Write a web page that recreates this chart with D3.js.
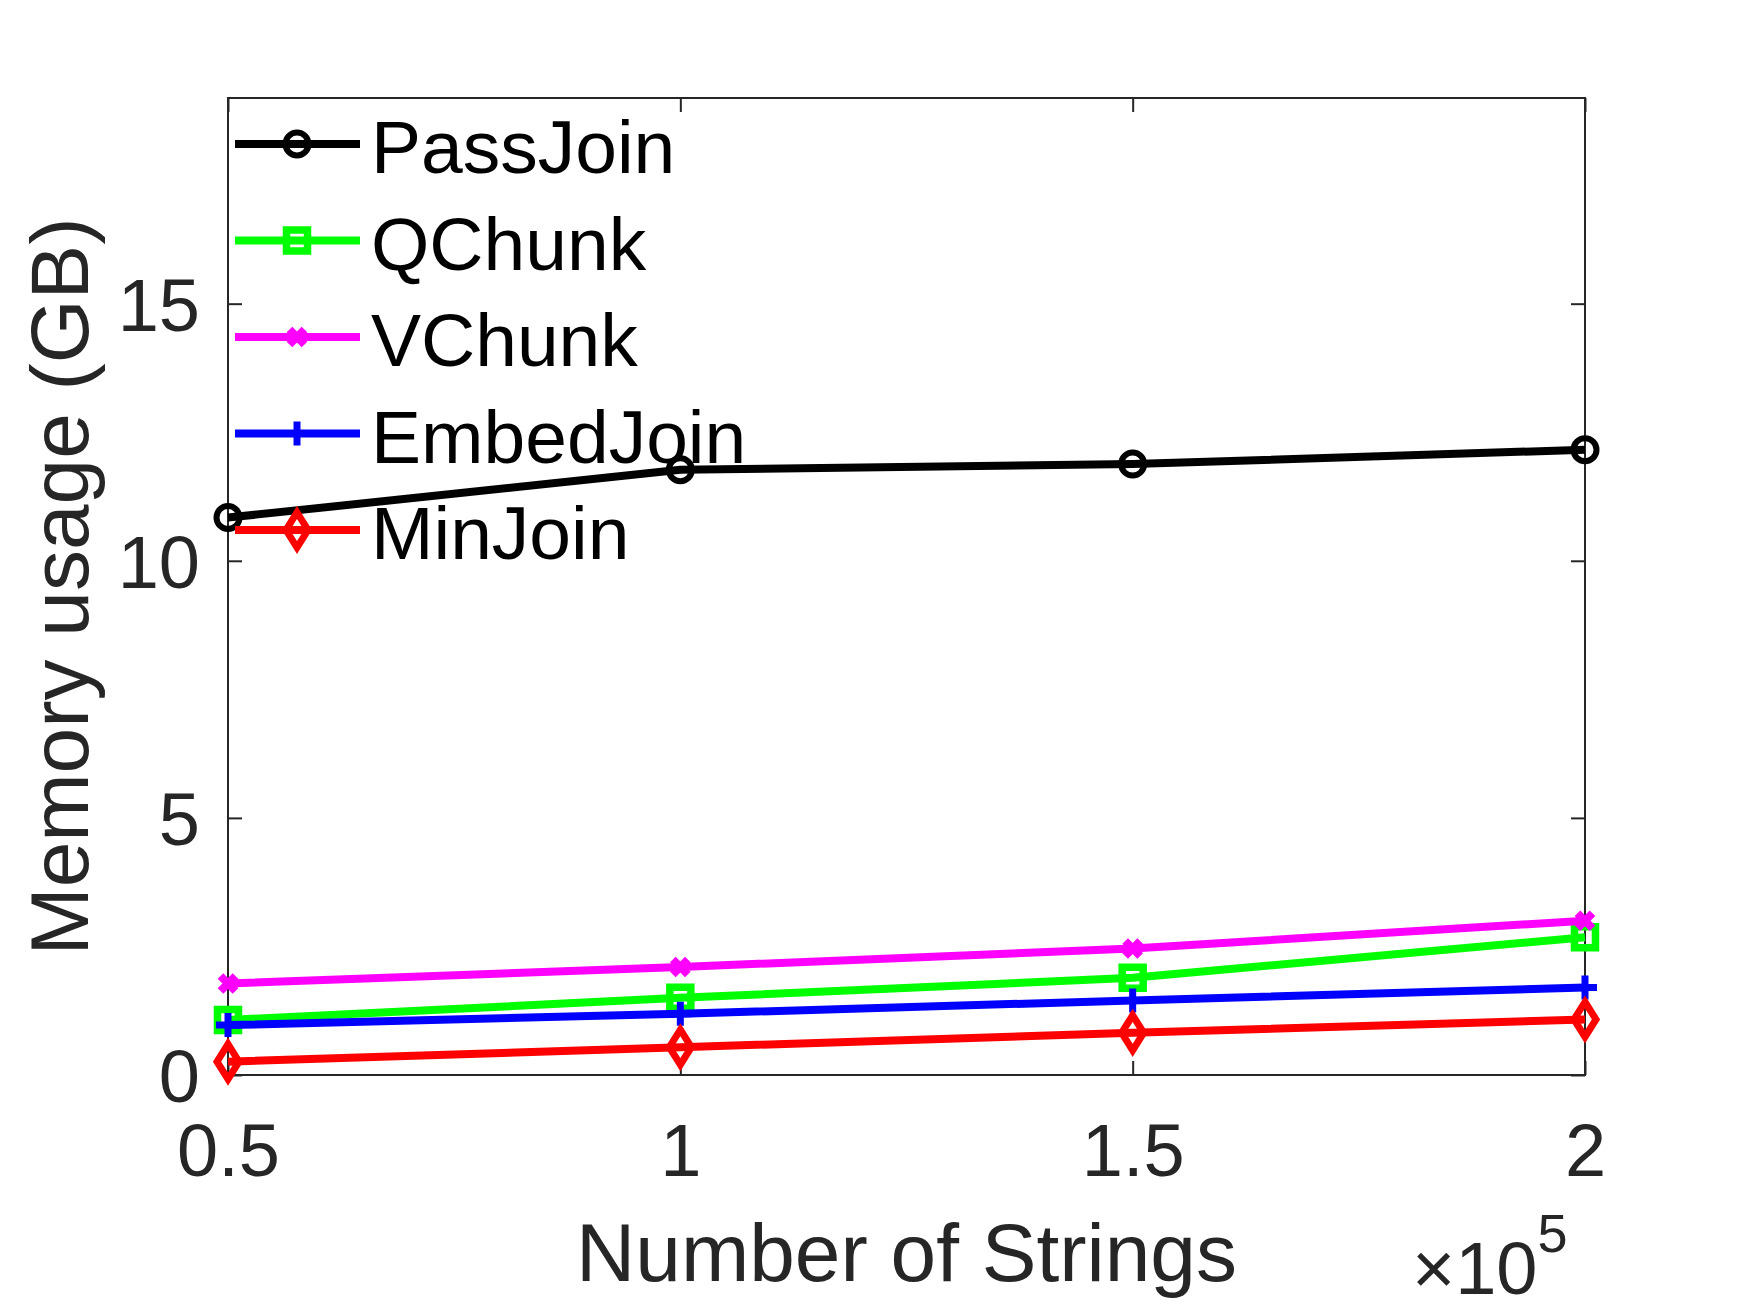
<!DOCTYPE html>
<html><head><meta charset="utf-8">
<script src="https://cdn.jsdelivr.net/npm/d3@7/dist/d3.min.js"></script>
<style>html,body{margin:0;padding:0;background:#fff;}</style>
</head><body>
<svg id="chart" width="1750" height="1312"></svg>
<script>
const xValues = [0.5, 1, 1.5, 2];
const xTickLabels = ["0.5", "1", "1.5", "2"];
const yTicks = [0, 5, 10, 15];
const seriesNames = ["PassJoin", "QChunk", "VChunk", "EmbedJoin", "MinJoin"];
const passJoin = [10.84, 11.77, 11.88, 12.16];
const qChunk = [1.07, 1.50, 1.89, 2.68];
const vChunk = [1.78, 2.10, 2.46, 3.00];
const embedJoin = [0.97, 1.19, 1.45, 1.70];
const minJoin = [0.26, 0.54, 0.82, 1.08];
const seriesColors = ["#000000", "#00ff00", "#ff00ff", "#0000ff", "#ff0000"];
const seriesMarkers = ["circle", "square", "x", "plus", "diamond"];
const seriesValues = [passJoin, qChunk, vChunk, embedJoin, minJoin];

const L = 228, R = 1585, T = 98, B = 1075;
const svg = d3.select("#chart");
const x = d3.scaleLinear().domain([0.5, 2]).range([L, R]);
const y = d3.scaleLinear().domain([0, 19]).range([B, T]);
const axisColor = "#262626";
const font = "'Liberation Sans', Arial, Helvetica, sans-serif";

function markerPath(type) {
  switch (type) {
    case "circle": { const r = 11.5; return `M${-r},0A${r},${r} 0 1,0 ${r},0A${r},${r} 0 1,0 ${-r},0Z`; }
    case "square": { const s = 10.5; return `M${-s},${-s}H${s}V${s}H${-s}Z`; }
    case "diamond": { const w = 11, h = 17.5; return `M0,${-h}L${w},0L0,${h}L${-w},0Z`; }
    case "x": { const s = 7.5; return `M${-s},${-s}L${s},${s}M${-s},${s}L${s},${-s}`; }
    case "plus": { const s = 12; return `M${-s},0H${s}M0,${-s}V${s}`; }
  }
}
const markerStroke = {circle: 6, square: 7.5, diamond: 7, x: 8, plus: 7};

// axes (box with inward ticks on all sides)
const gx = svg.append("g").attr("transform", `translate(0,${B})`)
  .call(d3.axisBottom(x).tickValues(xValues).tickFormat((d, i) => xTickLabels[i]).tickSizeInner(-14).tickSizeOuter(0).tickPadding(48));
const gxt = svg.append("g").attr("transform", `translate(0,${T})`)
  .call(d3.axisTop(x).tickValues(xValues).tickFormat("").tickSizeInner(-14).tickSizeOuter(0));
const gy = svg.append("g").attr("transform", `translate(${L},0)`)
  .call(d3.axisLeft(y).tickValues(yTicks).tickFormat(d3.format("d")).tickSizeInner(-14).tickSizeOuter(0).tickPadding(28));
const gyr = svg.append("g").attr("transform", `translate(${R},0)`)
  .call(d3.axisRight(y).tickValues(yTicks).tickFormat("").tickSizeInner(-14).tickSizeOuter(0));
[gx, gxt, gy, gyr].forEach(g => {
  g.select(".domain").remove();
  g.selectAll(".tick line").attr("stroke", axisColor).attr("stroke-width", 2);
  g.selectAll(".tick text").attr("fill", axisColor).style("font-family", font).style("font-size", "74px");
});
gx.selectAll(".tick text").attr("dy", "0.71em");
gy.selectAll(".tick text").attr("dy", "0.36em");

svg.append("rect").attr("x", L).attr("y", T).attr("width", R - L).attr("height", B - T)
  .attr("fill", "none").attr("stroke", axisColor).attr("stroke-width", 2);

// series
const line = d3.line().x((d, i) => x(xValues[i])).y(d => y(d));
seriesValues.forEach((vals, k) => {
  const g = svg.append("g");
  g.append("path").datum(vals).attr("d", line).attr("fill", "none")
    .attr("stroke", seriesColors[k]).attr("stroke-width", 8).attr("stroke-linejoin", "round");
  g.selectAll("path.m").data(vals).enter().append("path").attr("class", "m")
    .attr("transform", (d, i) => `translate(${x(xValues[i])},${y(d)})`)
    .attr("d", markerPath(seriesMarkers[k])).attr("fill", "none")
    .attr("stroke", seriesColors[k]).attr("stroke-width", markerStroke[seriesMarkers[k]]);
});

// legend
const lg = svg.append("g");
seriesNames.forEach((name, k) => {
  const ly = 144 + k * 96.5;
  lg.append("line").attr("x1", 235).attr("x2", 360).attr("y1", ly).attr("y2", ly)
    .attr("stroke", seriesColors[k]).attr("stroke-width", 8);
  lg.append("path").attr("transform", `translate(297,${ly})`).attr("d", markerPath(seriesMarkers[k]))
    .attr("fill", "none").attr("stroke", seriesColors[k]).attr("stroke-width", markerStroke[seriesMarkers[k]]);
  lg.append("text").attr("x", 371).attr("y", ly + 29).text(name)
    .attr("fill", "#000").style("font-family", font).style("font-size", "75px");
});

// axis titles
svg.append("text").attr("x", (L + R) / 2).attr("y", 1281).attr("text-anchor", "middle")
  .attr("fill", axisColor).style("font-family", font).style("font-size", "82px").text("Number of Strings");
svg.append("text").attr("transform", `translate(88,${(T + B) / 2}) rotate(-90)`).attr("text-anchor", "middle")
  .attr("fill", axisColor).style("font-family", font).style("font-size", "82px").text("Memory usage (GB)");

// exponent
const ex = svg.append("text").attr("x", 1412).attr("y", 1294).attr("fill", axisColor)
  .style("font-family", font).style("font-size", "74px");
ex.append("tspan").text("×10");
ex.append("tspan").attr("dy", -42).style("font-size", "54px").text("5");
</script>
</body></html>
